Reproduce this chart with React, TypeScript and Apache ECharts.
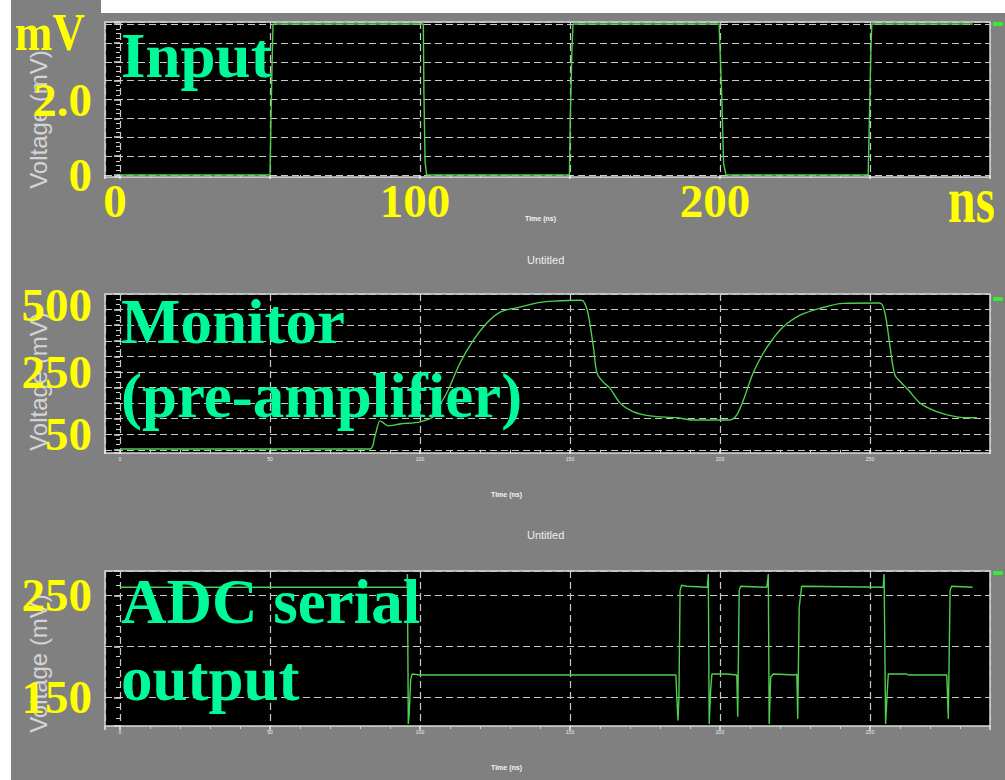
import React, { useEffect, useRef } from "react";
import * as echarts from "echarts";

// ---------- data ----------
const inputTime = [0, 50, 50.3, 50.6, 51, 101.1, 101.3, 101.7, 102.2, 149.8, 150.1, 150.6, 151, 199.7, 200.6, 201.2, 202, 249.4, 249.8, 250.3, 250.6, 284.3];
const inputMv = [0, 0, 1.35, 2.6, 4, 4, 2.2, 0.35, 0, 0, 1.5, 3.2, 4, 4, 2.05, 0.3, 0, 0, 1.5, 3.3, 4, 4];

const monitorTime = [0, 83.3, 85, 86.7, 88, 89.3, 93.3, 100, 104.4, 107, 109.4, 113.3, 117.8, 122.2, 126.7, 133.3, 140, 144.4, 153.3, 154.4, 156, 157.8, 159, 161, 163.3, 166.7, 171, 176.7, 185.6, 191, 203.3, 205.6, 207.8, 211, 214.4, 217.8, 221, 226.7, 233.3, 241, 253.3, 255, 256.7, 258.3, 260.6, 262.8, 266.7, 272.2, 278.9, 285.6];
const monitorMv = [3, 3, 45, 93, 85, 77, 83, 90, 106, 150, 192, 278, 352, 406, 442, 458, 473, 477, 480, 478, 438, 330, 246, 218, 198, 150, 123, 109, 103, 96, 96, 112, 160, 246, 310, 358, 394, 432, 454, 470, 471, 438, 330, 240, 214, 192, 150, 123, 106, 103];

const adcTime = [0, 95.7, 95.8, 96.1, 96.4, 96.9, 97.4, 100, 185.3, 185.6, 186, 186.3, 186.7, 187.2, 188.9, 195.8, 196.1, 196.4, 196.9, 197.3, 202.2, 205.6, 205.9, 206.4, 206.9, 215.6, 216.1, 216.4, 216.9, 217.8, 225, 225.6, 225.9, 226.4, 227.2, 254.4, 254.7, 255.2, 255.8, 256.1, 262.2, 262.8, 275.6, 276.1, 276.7, 277.2, 284.2];
const adcMv = [258, 258, 271, 124, 134, 168, 173, 172, 172, 150, 127.5, 150, 255, 260, 259, 258, 271, 124, 158, 173, 173, 172, 131, 255, 259, 258, 271, 124, 170, 173, 172, 173, 129, 238, 259, 258, 271, 124, 158, 173, 173, 172, 172, 129, 255, 259, 258];

// axis ranges
const timeRange = [-5, 290];
const inputRange = [-0.055, 4.055];
const monitorRange = [-10, 500];
const adcRange = [122, 274];

// tick labels shown (slide overlay labels)
const timeTickLabels = [0, 100, 200];
const inputTickLabels: Record<string, string> = { "0": "0", "2": "2.0" };
const monitorTickLabels = [50, 250, 500];
const adcTickLabels = [150, 250];
const smallTimeTicks = [0, 50, 100, 150, 200, 250];

const panelTitles = ["Input", "Monitor\n(pre-amplifier)", "ADC serial\noutput"];
const seriesNames = ["Input", "Monitor", "ADC"];

const zip = (a: number[], b: number[]) => a.map((t, i) => [t, b[i]]);

const GREEN = "#4fcf4f";
const YELLOW = "#ffff00";
const MINT = "#00fa9a";

export default function App() {
  const ref = useRef<HTMLDivElement>(null);
  useEffect(() => {
    if (!ref.current) return;
    const chart = echarts.init(ref.current, undefined, { renderer: "svg" });

    const gridTops = [22, 294, 571];
    const gridHeights = [155, 159, 155];
    const grids = gridTops.map((top, i) => ({
      left: 105,
      width: 885,
      top,
      height: gridHeights[i],
      show: true,
      containLabel: false,
      outerBoundsMode: "none",
      backgroundColor: "#000",
      borderColor: "#d8d8d8",
      borderWidth: 1.5,
    }));

    const splitStyle = { show: true, lineStyle: { color: "#c8c8c8", type: [7, 4], width: 1.2 } };

    const yellowLabel = {
      color: YELLOW,
      fontFamily: "Liberation Serif",
      fontWeight: "bold" as const,
      fontSize: 47,
    };

    const xAxes = [0, 1, 2].map((i) => ({
      type: "value",
      gridIndex: i,
      min: timeRange[0],
      max: timeRange[1],
      splitNumber: 6,
      axisLine: { show: false },
      axisTick: { show: true, length: 4, lineStyle: { color: "#e8e8e8", width: 1.5 } },
      minorTick: { show: true, splitNumber: 5, length: 3, lineStyle: { color: "#d0d0d0", width: 1 } },
      splitLine: splitStyle,
      name: "Time (ns)",
      nameLocation: "middle",
      nameMoveOverlap: false,
      nameGap: 38,
      nameTextStyle: {
        color: "#f4f4f4",
        fontSize: 7,
        fontWeight: "bold",
        fontFamily: "Liberation Sans",
        padding: i === 0 ? [0, 14, 0, 0] : [0, 82, 0, 0],
      },
      axisLabel:
        i === 0
          ? {
              ...yellowLabel,
              margin: 0,
              lineHeight: 47,
              padding: [0, 10, 0, 0],
              formatter: (v: number) => (timeTickLabels.includes(v) ? String(v) : ""),
            }
          : {
              color: "#eeeeee",
              fontSize: 5,
              margin: 3,
              formatter: (v: number) => (smallTimeTicks.includes(v) ? String(v) : ""),
            },
    }));

    const yCommon = (i: number, minorSplit: number, namePad: number) => ({
      type: "value",
      gridIndex: i,
      axisLine: { show: false },
      axisTick: { show: true, length: 6, lineStyle: { color: "#dddddd", width: 1.5 } },
      minorTick: { show: true, splitNumber: minorSplit, length: 4, lineStyle: { color: "#d0d0d0", width: 1 } },
      splitLine: splitStyle,
      name: "Voltage (mV)",
      nameLocation: "middle",
      nameMoveOverlap: false,
      nameGap: 55,
      nameTextStyle: {
        color: "#d4d4d4",
        fontSize: 24,
        fontFamily: "Liberation Sans",
        padding: [0, namePad, 0, 0],
      },
    });

    const yAxes = [
      {
        ...yCommon(0, 4, 40),
        min: inputRange[0],
        max: inputRange[1],
        splitNumber: 8,
        axisLabel: {
          ...yellowLabel,
          margin: 13,
          formatter: (v: number) => inputTickLabels[String(v)] ?? "",
        },
      },
      {
        ...yCommon(1, 3, 16),
        min: monitorRange[0],
        max: monitorRange[1],
        splitNumber: 10,
        axisLabel: {
          ...yellowLabel,
          margin: 13,
          showMaxLabel: true,
          formatter: (v: number) =>
            monitorTickLabels.includes(v) ? (v === 500 ? "{d|" + v + "}" : String(v)) : "",
          rich: {
            d: { ...yellowLabel, padding: [22, 0, 0, 0] },
          },
        },
      },
      {
        ...yCommon(2, 5, 30),
        min: adcRange[0],
        max: adcRange[1],
        splitNumber: 3,
        axisLabel: {
          ...yellowLabel,
          margin: 13,
          padding: [16, 0, 0, 0],
          formatter: (v: number) => (adcTickLabels.includes(v) ? String(v) : ""),
        },
      },
    ];

    const datasets = [zip(inputTime, inputMv), zip(monitorTime, monitorMv), zip(adcTime, adcMv)];
    const series = datasets.map((d, i) => ({
      type: "line",
      name: seriesNames[i],
      xAxisIndex: i,
      yAxisIndex: i,
      data: d,
      showSymbol: false,
      symbol: "none",
      smooth: i === 1 ? 0.3 : false,
      lineStyle: { color: GREEN, width: 1.4 },
      itemStyle: { color: GREEN },
      z: 3,
    }));

    const legendTops = [22, 297, 571];
    const legends = seriesNames.map((n, i) => ({
      data: [{ name: n, itemStyle: { color: "#33ee33" } }],
      left: 993,
      top: legendTops[i],
      padding: 0,
      itemWidth: 10,
      itemHeight: 4,
      icon: "roundRect",
      selectedMode: false,
      formatter: () => "",
      textStyle: { fontSize: 1 },
    }));

    const titleFont = 'bold 63px "Liberation Serif"';
    const titleBaselines = [[77], [343, 417], [623, 700]];
    const annotationTexts: any[] = [];
    panelTitles.forEach((t, i) => {
      t.split("\n").forEach((line, j) => {
        annotationTexts.push({
          type: "text",
          x: 121,
          y: titleBaselines[i][j] - 21.3,
          z: 100,
          style: { text: line, font: titleFont, fill: MINT, verticalAlign: "middle", align: "left" },
        });
      });
    });

    chart.setOption({
      animation: false,
      backgroundColor: "#808080",
      title: [
        { text: "Untitled", left: 527, top: 254, padding: 0, textStyle: { color: "#eeeeee", fontSize: 11, fontWeight: "normal", fontFamily: "Liberation Sans" } },
        { text: "Untitled", left: 527, top: 529, padding: 0, textStyle: { color: "#eeeeee", fontSize: 11, fontWeight: "normal", fontFamily: "Liberation Sans" } },
      ],
      legend: legends,
      grid: grids,
      xAxis: xAxes,
      yAxis: yAxes,
      series,
      graphic: [
        { type: "rect", shape: { x: 0, y: 0, width: 11, height: 780 }, style: { fill: "#ffffff" }, z: 0 },
        { type: "rect", shape: { x: 101, y: 0, width: 904, height: 13 }, style: { fill: "#ffffff" }, z: 0 },
        {
          type: "text",
          x: 15,
          y: 32.5,
          scaleY: 1.17,
          z: 100,
          style: { text: "mV", font: 'bold 45px "Liberation Serif"', fill: YELLOW, verticalAlign: "middle", align: "left" },
        },
        {
          type: "text",
          x: 948,
          y: 200,
          scaleY: 1.3,
          z: 100,
          style: { text: "ns", font: 'bold 50px "Liberation Serif"', fill: YELLOW, verticalAlign: "middle", align: "left" },
        },
        ...annotationTexts,
      ],
    });
    return () => chart.dispose();
  }, []);
  return <div ref={ref} style={{ position: "fixed", left: 0, top: 0, width: 1005, height: 780 }} />;
}
